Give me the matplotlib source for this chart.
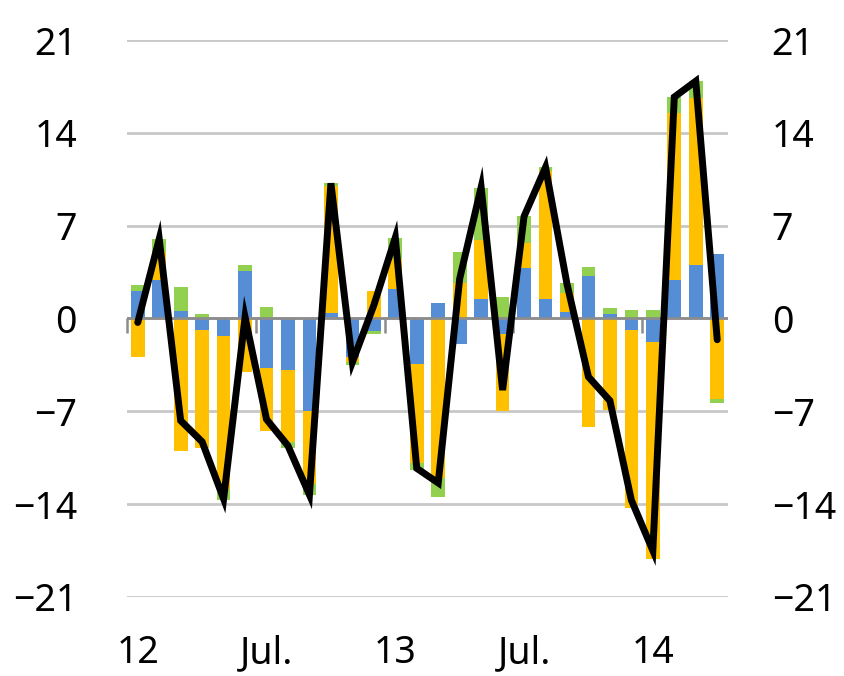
import numpy as np
import matplotlib
matplotlib.use("Agg")
import matplotlib.pyplot as plt

plt.rcParams['font.family'] = ['Noto Sans', 'DejaVu Sans']

# Monthly contributions, Jan 2012 - Apr 2014
months = [f"{y}-{m:02d}" for y in (2012, 2013, 2014) for m in range(1, 13)][:28]
blue = [2.1, 2.9, 0.55, -0.9, -1.35, 3.6, -3.7, -3.85, -6.95, 0.4, -2.9, -0.95, 2.25, -3.4,
        1.15, -1.95, 1.45, -1.2, 3.8, 1.45, 0.5, 3.2, 0.35, -0.9, -1.8, 2.9, 4.0, 4.9]
yellow = [-2.9, 2.1, -10.0, -8.9, -11.5, -4.0, -4.8, -5.45, -5.5, 9.6, -0.35, 2.05, 2.2, -7.5,
          -12.0, 2.7, 4.5, -5.8, 1.9, 9.7, 1.45, -8.15, -6.9, -13.4, -16.3, 12.6, 12.6, -6.1]
green = [0.4, 1.0, 1.85, 0.35, -0.8, 0.45, 0.85, -0.45, -0.85, 0.2, -0.25, -0.25, 1.6, -0.55,
         -1.45, 2.3, 3.9, 1.6, 2.0, 0.25, 0.7, 0.7, 0.45, 0.65, 0.65, 1.2, 1.3, -0.25]
total = [-0.3, 6.0, -7.7, -9.3, -13.6, 0.1, -7.6, -9.6, -13.3, 10.2, -3.3, 1.0, 6.1, -11.3,
         -12.4, 3.0, 9.9, -5.4, 7.7, 11.4, 2.6, -4.4, -6.2, -13.7, -17.5, 16.7, 17.9, -1.6]

tick_pos = [0, 6, 12, 18, 24]
tick_labels = ["12", "Jul.", "13", "Jul.", "14"]
y_ticks = [-21, -14, -7, 0, 7, 14, 21]

colors = ["#558ED5", "#FFC000", "#92D050"]

fig = plt.figure(figsize=(8.44, 6.76), dpi=100)
ax = fig.add_axes([0.1505, 0.1169, 0.712, 0.8239])

x = np.arange(len(months))
pos_base = np.zeros(len(x))
neg_base = np.zeros(len(x))
for series, c in zip([blue, yellow, green], colors):
    v = np.array(series)
    bottom = np.where(v >= 0, pos_base, neg_base)
    ax.bar(x, v, bottom=bottom, width=0.64, color=c, zorder=2)
    pos_base = pos_base + np.where(v >= 0, v, 0)
    neg_base = neg_base + np.where(v < 0, v, 0)

# zero axis line with downward tick marks at half-year boundaries
ax.axhline(0, color="#8c8c8c", lw=2, zorder=3)
edges = [p - 0.5 for p in tick_pos]
ax.plot(edges, [0] * len(edges), ls="none", marker=3, markersize=11, mew=1.8,
        color="#8c8c8c", zorder=3, clip_on=False)

ax.plot(x, total, color="black", lw=5, solid_joinstyle="miter", solid_capstyle="round", zorder=4)

ax.set_xlim(-0.5, 27.5)
ax.set_ylim(-21, 21)
ax.set_yticks(y_ticks)
ax.set_yticklabels([str(v).replace("-", "\u2212") for v in y_ticks])
ax.yaxis.grid(True, color="#c8c8c8", lw=2, zorder=0)
ax.set_axisbelow(True)
for s in ax.spines.values():
    s.set_visible(False)
ax.tick_params(axis="y", length=0, pad=36, labelsize=27)
ax.set_xticks(tick_pos)
ax.set_xticklabels(tick_labels)
ax.tick_params(axis="x", length=0, pad=27, labelsize=27)

ax2 = ax.twinx()
ax2.set_ylim(-21, 21)
ax2.set_yticks(y_ticks)
ax2.set_yticklabels([str(v).replace("-", "\u2212") for v in y_ticks])
ax2.tick_params(axis="y", length=0, pad=31.5, labelsize=27)
for s in ax2.spines.values():
    s.set_visible(False)

fig.savefig("out.png", dpi=100)
